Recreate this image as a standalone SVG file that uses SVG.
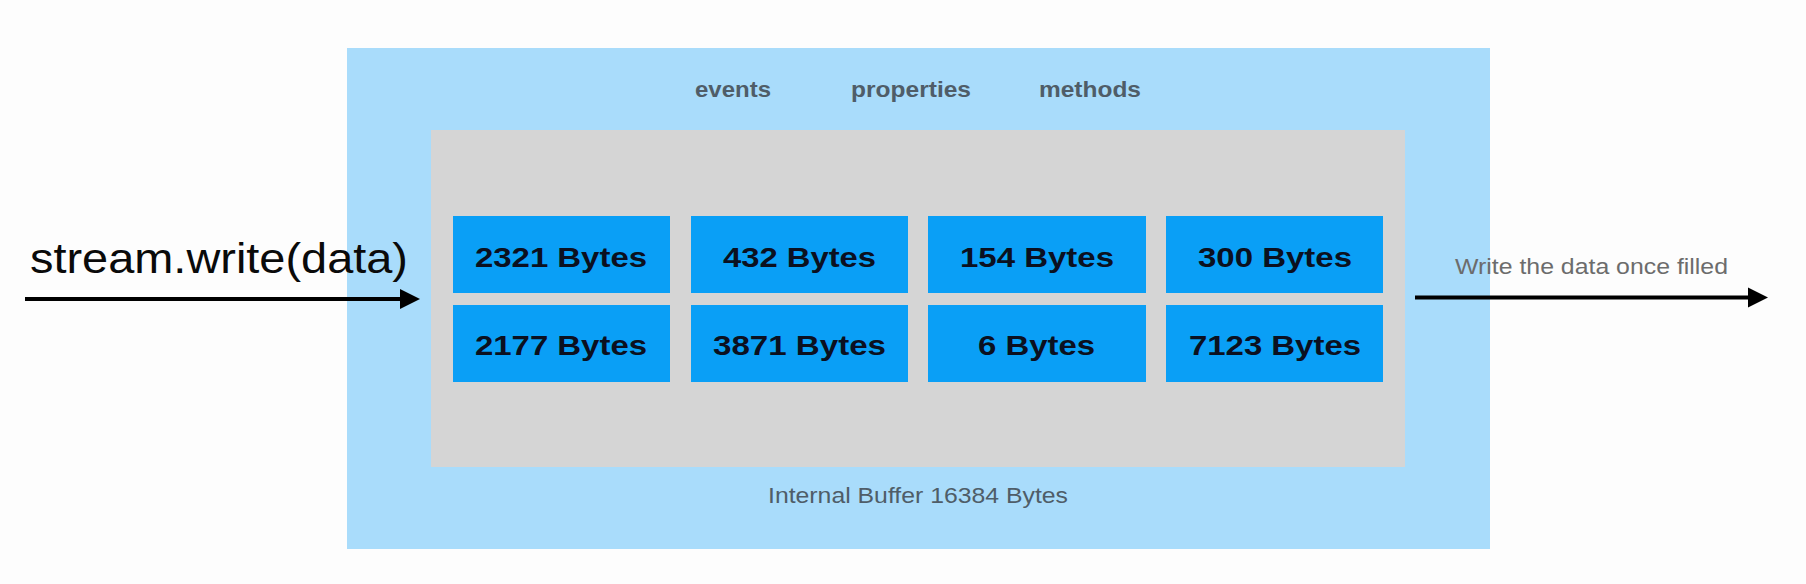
<svg xmlns="http://www.w3.org/2000/svg" width="1806" height="584" viewBox="0 0 1806 584">
  <style>
    .cell { fill: #0a9ff6; }
    .cellText { font-family: "Liberation Sans", Arial, sans-serif; font-weight: bold; font-size: 28px; fill: #0b1020; }
    .hdr { font-family: "Liberation Sans", Arial, sans-serif; font-weight: bold; font-size: 22px; fill: #4f5d68; }
    .lbl { font-family: "Liberation Sans", Arial, sans-serif; font-size: 22px; fill: #4f5d68; }
    .conn { stroke: #000; stroke-width: 4; fill: none; }
  </style>
  <defs>
    <marker id="arrow" markerUnits="userSpaceOnUse" markerWidth="20" markerHeight="22" refX="10" refY="11" orient="auto">
      <path d="M0,1 L20,11 L0,21 Z" fill="#000"/>
    </marker>
  </defs>
  <rect x="0" y="0" width="1806" height="584" fill="#fdfdfd"/>

  <g id="stream">
    <rect x="347" y="48" width="1143" height="501" fill="#a9dcfb"/>
    <text class="hdr" x="695" y="97" textLength="76" lengthAdjust="spacingAndGlyphs">events</text>
    <text class="hdr" x="851" y="97" textLength="120" lengthAdjust="spacingAndGlyphs">properties</text>
    <text class="hdr" x="1039" y="97" textLength="102" lengthAdjust="spacingAndGlyphs">methods</text>
  </g>

  <g id="buffer">
    <rect x="431" y="130" width="974" height="337" fill="#d5d5d5"/>
    <text class="lbl" x="768" y="503" textLength="300" lengthAdjust="spacingAndGlyphs">Internal Buffer 16384 Bytes</text>
  </g>

  <g id="chunk-2321">
    <rect class="cell" x="453" y="216" width="217" height="77"/>
    <text class="cellText" x="475" y="267" textLength="172" lengthAdjust="spacingAndGlyphs">2321 Bytes</text>
  </g>
  <g id="chunk-432">
    <rect class="cell" x="691" y="216" width="217" height="77"/>
    <text class="cellText" x="723" y="267" textLength="153" lengthAdjust="spacingAndGlyphs">432 Bytes</text>
  </g>
  <g id="chunk-154">
    <rect class="cell" x="928" y="216" width="218" height="77"/>
    <text class="cellText" x="960" y="267" textLength="154" lengthAdjust="spacingAndGlyphs">154 Bytes</text>
  </g>
  <g id="chunk-300">
    <rect class="cell" x="1166" y="216" width="217" height="77"/>
    <text class="cellText" x="1198" y="267" textLength="154" lengthAdjust="spacingAndGlyphs">300 Bytes</text>
  </g>
  <g id="chunk-2177">
    <rect class="cell" x="453" y="305" width="217" height="77"/>
    <text class="cellText" x="475" y="355" textLength="172" lengthAdjust="spacingAndGlyphs">2177 Bytes</text>
  </g>
  <g id="chunk-3871">
    <rect class="cell" x="691" y="305" width="217" height="77"/>
    <text class="cellText" x="713" y="355" textLength="173" lengthAdjust="spacingAndGlyphs">3871 Bytes</text>
  </g>
  <g id="chunk-6">
    <rect class="cell" x="928" y="305" width="218" height="77"/>
    <text class="cellText" x="978" y="355" textLength="117" lengthAdjust="spacingAndGlyphs">6 Bytes</text>
  </g>
  <g id="chunk-7123">
    <rect class="cell" x="1166" y="305" width="217" height="77"/>
    <text class="cellText" x="1189" y="355" textLength="172" lengthAdjust="spacingAndGlyphs">7123 Bytes</text>
  </g>

  <g id="connectors">
    <path class="conn" d="M25,299 H410" marker-end="url(#arrow)"/>
    <path class="conn" d="M1415,297.5 H1758" marker-end="url(#arrow)"/>
  </g>

  <g id="labels">
    <text x="30" y="273" font-family="'Liberation Sans', Arial, sans-serif" font-size="43" fill="#0a0a0a" textLength="378" lengthAdjust="spacingAndGlyphs">stream.write(data)</text>
    <text x="1455" y="274" font-family="'Liberation Sans', Arial, sans-serif" font-size="22" fill="#6c6c6c" textLength="273" lengthAdjust="spacingAndGlyphs">Write the data once filled</text>
  </g>
</svg>
